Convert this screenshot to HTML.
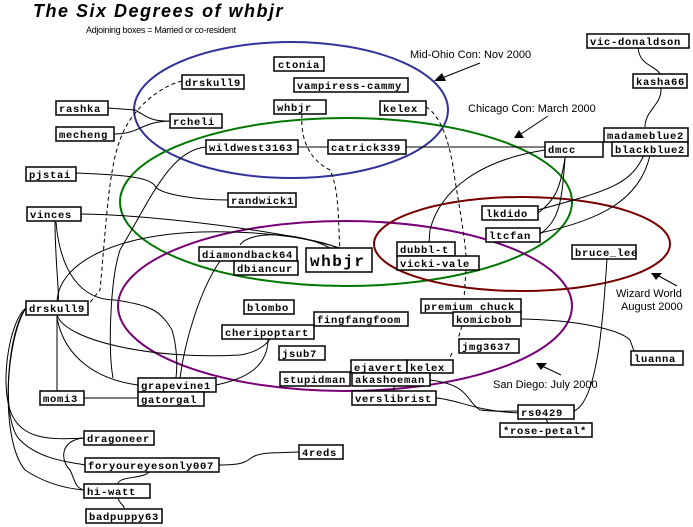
<!DOCTYPE html>
<html><head><meta charset="utf-8"><style>
html,body{margin:0;padding:0;background:#fff;}
svg{display:block;}
.b rect{fill:#fff;stroke:#000;stroke-width:1.5;}
.b text{font-family:"Liberation Mono",monospace;font-size:10.5px;font-weight:bold;letter-spacing:0.7px;}
.l{fill:none;stroke:#000;stroke-width:1;}
.d{fill:none;stroke:#000;stroke-width:1;stroke-dasharray:4,3;}
.s{font-family:"Liberation Sans",sans-serif;font-size:11px;}
</style></head><body>
<svg width="693" height="527" viewBox="0 0 693 527" xmlns="http://www.w3.org/2000/svg">
<text x="33" y="17" font-family="Liberation Sans,sans-serif" font-size="18" font-weight="bold" font-style="italic" letter-spacing="1.5">The Six Degrees of whbjr</text>
<text x="86" y="33" font-family="Liberation Sans,sans-serif" font-size="9" letter-spacing="-0.3">Adjoining boxes = Married or co-resident</text>
<text x="410" y="58" class="s">Mid-Ohio Con: Nov 2000</text>
<text x="468" y="112" class="s">Chicago Con: March 2000</text>
<text x="616" y="297" class="s">Wizard World</text>
<text x="621" y="310" class="s">August 2000</text>
<text x="493" y="388" class="s">San Diego: July 2000</text>
<line x1="480" y1="63" x2="442" y2="78" stroke="#000"/><polygon points="434,81 442,73 446,81" fill="#000"/>
<line x1="548" y1="116" x2="521" y2="134" stroke="#000"/><polygon points="514,138 519,130 524,138" fill="#000"/>
<line x1="677" y1="286" x2="657" y2="275" stroke="#000"/><polygon points="651,273 662,273 656,280" fill="#000"/>
<line x1="561" y1="375" x2="542" y2="366" stroke="#000"/><polygon points="536,363 547,363 541,370" fill="#000"/>
<ellipse cx="291" cy="110" rx="157" ry="68" fill="none" stroke="#333399" stroke-width="2"/>
<ellipse cx="346" cy="202" rx="226" ry="84" fill="none" stroke="#007700" stroke-width="2"/>
<ellipse cx="345" cy="306" rx="227" ry="85" fill="none" stroke="#770077" stroke-width="2"/>
<ellipse cx="522" cy="244" rx="148" ry="47" fill="none" stroke="#770000" stroke-width="2"/>
<path class="l" d="M108,108 L135,110 C145,115 150,122 170,121"/>
<path class="l" d="M114,134 C140,134 140,122 170,121"/>
<path class="d" d="M182,81 C160,86 130,110 120,140 C108,170 105,240 100,290 L88,305"/>
<path class="d" d="M302,114 C300,140 310,160 330,170 C340,190 338,230 340,248"/>
<path class="d" d="M426,107 C440,115 450,140 455,180 C460,210 465,240 466,256"/>
<path class="d" d="M466,270 L464,299 M462,326 L458,339 M452,353 L448,362"/>
<path class="l" d="M76,173 C130,175 150,178 155,186 C160,195 200,200 228,200"/>
<path class="l" d="M81,214 C150,215 280,230 340,248"/>
<path class="l" d="M206,147 C170,150 150,200 120,250 C110,280 108,350 113,378"/>
<path class="l" d="M298,147 L545,147"/>
<path class="l" d="M545,150 C480,160 440,190 430,230 L429,242"/>
<path class="l" d="M565,158 C560,190 555,200 538,213"/>
<path class="l" d="M565,158 C562,200 560,220 540,234"/>
<path class="l" d="M644,155 C630,185 610,190 538,210"/>
<path class="l" d="M650,155 C640,200 600,220 540,233"/>
<path class="l" d="M638,48 C640,66 655,65 660,74"/>
<path class="l" d="M661,88 C662,105 645,110 645,127"/>
<path class="l" d="M55,221 C55,260 60,300 58,301 M57,315 L57,391"/>
<path class="l" d="M56,222 C60,270 80,300 115,300 C150,305 160,310 172,330 C178,350 177,370 176,378"/>
<path class="l" d="M57,301 C60,260 120,235 200,232 C260,230 330,240 340,250"/>
<path class="l" d="M240,245 C250,230 300,232 330,248"/>
<path class="l" d="M57,315 C65,340 150,360 240,355 C260,352 268,342 270,339"/>
<path class="l" d="M57,318 C65,360 100,380 138,385"/>
<path class="l" d="M268,339 C268,370 240,380 216,385"/>
<path class="l" d="M220,261 C200,290 185,340 180,378"/>
<path class="l" d="M84,398 L138,398"/>
<path class="l" d="M26,308 C10,320 0,380 10,410 C20,440 50,440 84,438"/>
<path class="l" d="M26,308 C8,330 0,420 20,440 C40,460 70,462 85,465"/>
<path class="l" d="M26,308 C5,340 0,440 25,470 C40,480 60,488 84,490"/>
<path class="l" d="M84,438 C60,440 60,460 70,470 C75,480 75,488 84,490"/>
<path class="l" d="M219,465 C260,465 240,455 270,453 L299,452"/>
<path class="l" d="M150,469 C150,480 118,475 118,484 M118,498 C120,505 125,505 124,509"/>
<path class="l" d="M521,319 C580,320 620,330 630,340 L634,351"/>
<path class="l" d="M430,380 C470,385 465,400 480,410 C495,412 505,411 518,411"/>
<path class="l" d="M436,398 C460,400 470,410 518,413"/>
<path class="l" d="M574,411 C600,400 604,300 607,259"/>
<path class="l" d="M546,419 L548,423"/>
<path class="l" d="M394,386 L394,391"/>
<g class="b">
<rect x="274" y="57" width="50" height="14"/><text x="278" y="68">ctonia</text>
<rect x="182" y="75" width="62" height="14"/><text x="185" y="86">drskull9</text>
<rect x="294" y="78" width="114" height="14"/><text x="297" y="89">vampiress-cammy</text>
<rect x="56" y="101" width="52" height="14"/><text x="59" y="112">rashka</text>
<rect x="274" y="100" width="52" height="14"/><text x="277" y="111">whbjr</text>
<rect x="380" y="101" width="46" height="14"/><text x="383" y="112">kelex</text>
<rect x="170" y="114" width="52" height="14"/><text x="173" y="125">rcheli</text>
<rect x="56" y="127" width="58" height="14"/><text x="59" y="138">mecheng</text>
<rect x="206" y="140" width="92" height="14"/><text x="209" y="151">wildwest3163</text>
<rect x="328" y="140" width="78" height="14"/><text x="331" y="151">catrick339</text>
<rect x="545" y="142" width="58" height="15"/><text x="548" y="153">dmcc</text>
<rect x="587" y="34" width="102" height="14"/><text x="590" y="45">vic-donaldson</text>
<rect x="633" y="74" width="54" height="14"/><text x="636" y="85">kasha66</text>
<rect x="604" y="128" width="84" height="14"/><text x="607" y="139">madameblue2</text>
<rect x="612" y="142" width="76" height="14"/><text x="615" y="153">blackblue2</text>
<rect x="26" y="167" width="50" height="14"/><text x="29" y="178">pjstai</text>
<rect x="228" y="193" width="68" height="14"/><text x="231" y="204">randwick1</text>
<rect x="27" y="207" width="54" height="14"/><text x="30" y="218">vinces</text>
<rect x="482" y="206" width="56" height="14"/><text x="486" y="217">lkdido</text>
<rect x="486" y="228" width="54" height="14"/><text x="489" y="239">ltcfan</text>
<rect x="199" y="247" width="98" height="14"/><text x="202" y="258">diamondback64</text>
<rect x="234" y="261" width="64" height="14"/><text x="237" y="272">dbiancur</text>
<rect x="306" y="248" width="66" height="24" stroke-width="2"/><text x="310" y="266" style="font-size:16px;letter-spacing:1.5px">whbjr</text>
<rect x="397" y="242" width="58" height="14"/><text x="400" y="253">dubbl-t</text>
<rect x="397" y="256" width="82" height="14"/><text x="400" y="267">vicki-vale</text>
<rect x="572" y="245" width="64" height="14"/><text x="575" y="256">bruce_lee</text>
<rect x="26" y="301" width="62" height="14"/><text x="29" y="312">drskull9</text>
<rect x="244" y="300" width="50" height="14"/><text x="247" y="311">blombo</text>
<rect x="314" y="312" width="94" height="14"/><text x="317" y="323">fingfangfoom</text>
<rect x="222" y="325" width="92" height="14"/><text x="225" y="336">cheripoptart</text>
<rect x="421" y="299" width="100" height="14"/><text x="424" y="310">premium chuck</text>
<rect x="453" y="312" width="68" height="14"/><text x="456" y="323">komicbob</text>
<rect x="631" y="351" width="52" height="14"/><text x="634" y="362">luanna</text>
<rect x="279" y="346" width="46" height="14"/><text x="282" y="357">jsub7</text>
<rect x="459" y="339" width="60" height="14"/><text x="462" y="350">jmg3637</text>
<rect x="351" y="360" width="56" height="13"/><text x="354" y="371">ejavert</text>
<rect x="407" y="360" width="46" height="13"/><text x="410" y="371">kelex</text>
<rect x="280" y="372" width="70" height="14"/><text x="283" y="383">stupidman</text>
<rect x="352" y="373" width="78" height="13"/><text x="355" y="383">akashoeman</text>
<rect x="138" y="378" width="78" height="14"/><text x="141" y="389">grapevine1</text>
<rect x="40" y="391" width="44" height="14"/><text x="43" y="402">momi3</text>
<rect x="138" y="392" width="66" height="14"/><text x="141" y="403">gatorgal</text>
<rect x="352" y="391" width="84" height="14"/><text x="355" y="402">verslibrist</text>
<rect x="518" y="405" width="56" height="14"/><text x="521" y="416">rs0429</text>
<rect x="500" y="423" width="92" height="14"/><text x="503" y="434">*rose-petal*</text>
<rect x="84" y="431" width="70" height="14"/><text x="87" y="442">dragoneer</text>
<rect x="299" y="445" width="44" height="14"/><text x="302" y="456">4reds</text>
<rect x="85" y="458" width="134" height="14"/><text x="88" y="469">foryoureyesonly007</text>
<rect x="84" y="484" width="66" height="14"/><text x="87" y="495">hi-watt</text>
<rect x="86" y="509" width="76" height="14"/><text x="89" y="520">badpuppy63</text>
</g>
</svg>
</body></html>
